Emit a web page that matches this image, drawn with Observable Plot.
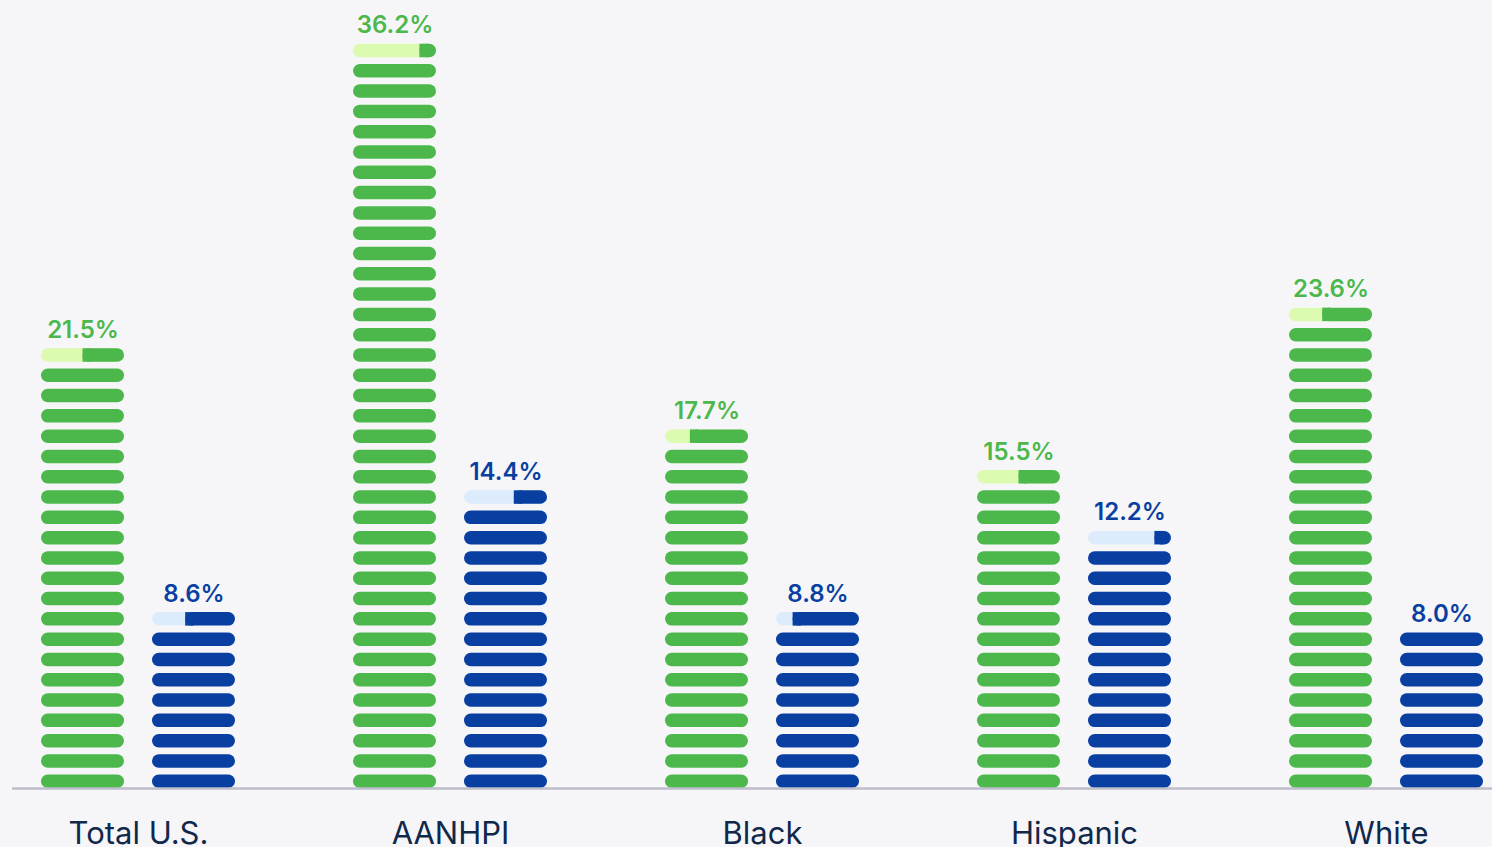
<!DOCTYPE html>
<html>
<head>
<meta charset="utf-8">
<script src="https://cdn.jsdelivr.net/npm/d3@7"></script>
<script src="https://cdn.jsdelivr.net/npm/@observablehq/plot@0.6"></script>
<style>
  html, body { margin: 0; padding: 0; background: #f6f6f9; }
  #chart { width: 1492px; height: 847px; overflow: hidden; }
  #chart svg { display: block; }
</style>
</head>
<body>
<div id="chart"></div>
<script>
// ---- data ----
const groups = ["Total U.S.", "AANHPI", "Black", "Hispanic", "White"];
const seriesKeys = ["green", "blue"];
const greenValues = [21.5, 36.2, 17.7, 15.5, 23.6];
const blueValues = [8.6, 14.4, 8.8, 12.2, 8.0];

// ---- styles ----
const solid = { green: "#4cb84c", blue: "#0a3fa2" };
const tint = { green: "#dcfbb0", blue: "#dcecfc" };
const PILL = 0.665;          // pill thickness in value units
const GAP = 0.337;           // gap between the two bars, in bar widths
const RX = 6.75;

// ---- derived tables ----
const series = [greenValues, blueValues];
const bars = [];
groups.forEach((g, gi) => {
  seriesKeys.forEach((s, si) => {
    bars.push({ group: g, series: s, value: series[si][gi], off: si * (1 + GAP) });
  });
});
const full = [], partialBg = [], partialFg = [];
for (const b of bars) {
  const n = Math.floor(b.value + 1e-9);
  const frac = Math.round((b.value - n) * 10) / 10;
  for (let i = 0; i < n; i++) full.push({ ...b, i });
  if (frac > 0) {
    partialBg.push({ ...b, i: n });
    partialFg.push({ ...b, i: n, frac });
  }
}
const labels = bars.map(b => ({ ...b, top: Math.ceil(b.value - 1e-9) - 1 + PILL }));

const chart = Plot.plot({
  width: 1492,
  height: 847,
  marginTop: 0,
  marginBottom: 59,
  marginLeft: 40,
  marginRight: 8,
  style: { background: "#f6f6f9", fontFamily: "Inter, 'Noto Sans', sans-serif", fontSize: "31px", color: "#10284a", overflow: "visible" },
  fx: { domain: groups, paddingInner: 0.378, paddingOuter: 0, axis: "bottom", tickSize: 0, tickPadding: 33, label: null },
  x: { domain: [0, 2 + GAP], axis: null },
  y: { domain: [0, 38.82], axis: null },
  marks: [
    Plot.rect(full, {
      fx: "group",
      x1: d => d.off, x2: d => d.off + 1,
      y1: d => d.i, y2: d => d.i + PILL,
      fill: d => solid[d.series], rx: RX
    }),
    Plot.rect(partialBg, {
      fx: "group",
      x1: d => d.off, x2: d => d.off + 1,
      y1: d => d.i, y2: d => d.i + PILL,
      fill: d => tint[d.series], rx: RX
    }),
    Plot.rect(partialFg, {
      fx: "group",
      x1: d => d.off + 1 - d.frac, x2: d => d.off + 1,
      y1: d => d.i, y2: d => d.i + PILL,
      fill: d => solid[d.series], rx: RX
    }),
    Plot.rect(partialFg, {
      fx: "group",
      x1: d => d.off + 1 - d.frac, x2: d => d.off + 1 - d.frac + 0.1,
      y1: d => d.i, y2: d => d.i + PILL,
      fill: d => solid[d.series]
    }),
    Plot.text(labels, {
      fx: "group",
      x: d => d.off + 0.5,
      y: "top",
      text: d => d.value.toFixed(1) + "%",
      lineAnchor: "bottom",
      dy: -11,
      fill: d => solid[d.series],
      fontSize: 24,
      fontWeight: 600
    }),
    Plot.ruleY(groups.slice(0, 1), { fx: d => d, y: () => 0, stroke: "#bdbdcc", strokeWidth: 2.5, insetLeft: -29, insetRight: -59 }),
    Plot.ruleY(groups.slice(1), { fx: d => d, y: () => 0, stroke: "#bdbdcc", strokeWidth: 2.5, insetLeft: -59, insetRight: -59 })
  ]
});
document.getElementById("chart").appendChild(chart);
</script>
</body>
</html>
